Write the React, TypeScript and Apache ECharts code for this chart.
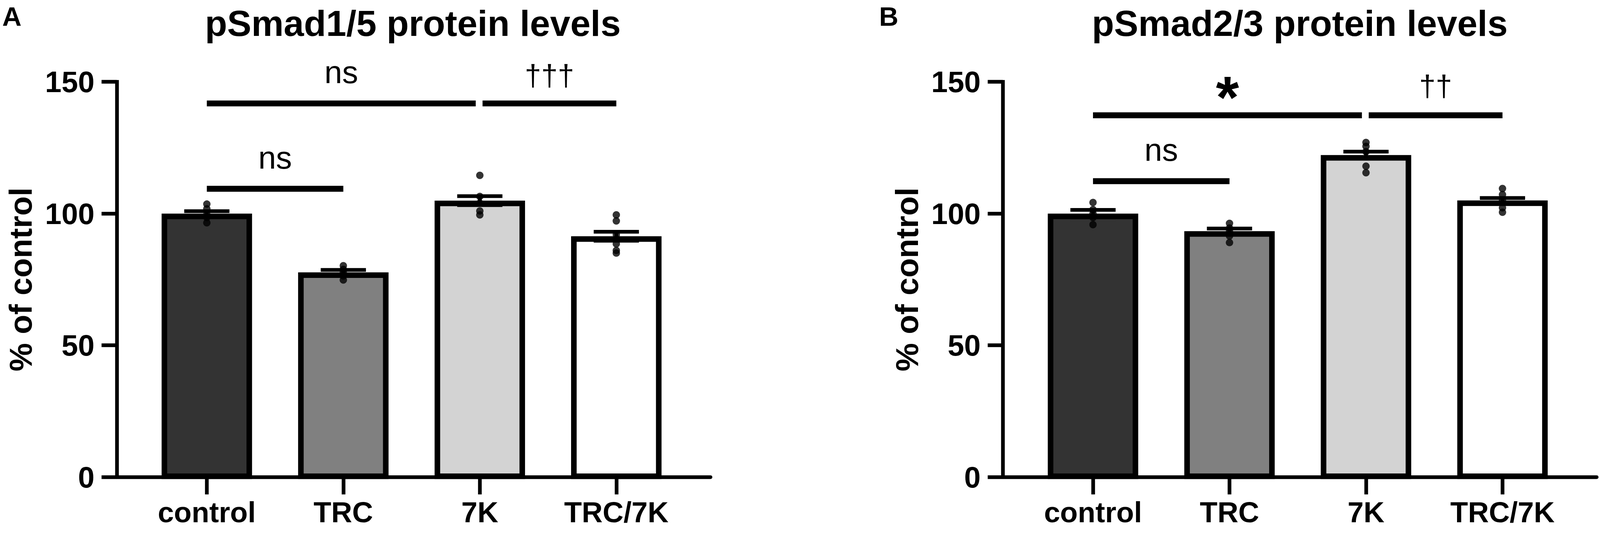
import React, { useEffect, useRef, useState } from "react";
import * as echarts from "echarts";

// ---------- data ----------
const categories = ["control", "TRC", "7K", "TRC/7K"];
const catPositions = [0, 1, 2, 3];
const barColors = ["#333333", "#808080", "#d3d3d3", "#ffffff"];

const titleA = "pSmad1/5 protein levels";
const titleB = "pSmad2/3 protein levels";
const yAxisName = "% of control";

const yMin = 0;
const yMax = 150;
const yInterval = 50;

// pSmad1/5 (panel A)
const smad15Means = [100, 77.7, 104.9, 91.4];
const smad15Sem = [0.9, 0.9, 1.7, 1.7];
const smad15Control = [103.6, 101.8, 99.6, 98.5, 96.5];
const smad15TRC = [80.2, 78.8, 77.5, 76.3, 74.8];
const smad157K = [114.5, 106.5, 104, 101, 99.5];
const smad15TRC7K = [99.5, 97.2, 92, 88.5, 86, 85];
const smad15SigLines = [
  [0, 1, 109.4],
  [0, 1.97, 141.8],
  [2.02, 3, 141.8],
];
const smad15SigLabels = ["ns", "ns", "†††"];

// pSmad2/3 (panel B)
const smad23Means = [100, 93.3, 122.2, 105.0];
const smad23Sem = [1.4, 1.0, 1.3, 0.9];
const smad23Control = [104.2, 101.5, 100, 98.5, 95.8];
const smad23TRC = [96.3, 94.5, 93.2, 91.5, 89];
const smad237K = [127, 125.5, 123.5, 118, 115.5];
const smad23TRC7K = [109.5, 107.2, 105, 102.2, 100.5];
const smad23SigLines = [
  [0, 1, 112.3],
  [0, 1.97, 137.3],
  [2.02, 3, 137.3],
];
const smad23SigLabels = ["ns", "*", "††"];

// ---------- styles ----------
const FONT = '"Liberation Sans", Arial, Helvetica, sans-serif';
const REF_W = 4317;
const REF_H = 1427;

function buildOption(s: number) {
  const px = (n: number) => n * s;
  const BAR_HALF = px(122);
  const BAR_BORDER = px(15);
  const CAP_HALF = px(61);
  const labelStyles: Record<string, { size: number; weight: string; dy: number }> = {
    ns: { size: 86, weight: "normal", dy: -85 },
    "†††": { size: 80, weight: "normal", dy: -76 },
    "††": { size: 80, weight: "normal", dy: -80 },
    "*": { size: 160, weight: "bold", dy: -48 },
  };

  function buildPanel(
    idx: number,
    means: number[],
    sems: number[],
    points: number[][],
    sigLines: number[][],
    sigLabels: string[]
  ) {
    const common = { xAxisIndex: idx, yAxisIndex: idx, coordinateSystem: "cartesian2d" };
    const bars = {
      type: "custom",
      ...common,
      z: 2,
      encode: { x: 0, y: 1 },
      data: means.map((m, i) => [catPositions[i], m]),
      renderItem: (params: any, api: any) => {
        const x = api.value(0);
        const m = api.value(1);
        const top = api.coord([x, m]);
        const base = api.coord([x, 0]);
        return {
          type: "rect",
          shape: {
            x: top[0] - BAR_HALF + BAR_BORDER / 2,
            y: top[1] + BAR_BORDER / 2,
            width: 2 * BAR_HALF - BAR_BORDER,
            height: base[1] - top[1] - BAR_BORDER / 2 - px(2),
          },
          style: { fill: barColors[params.dataIndex], stroke: "#000", lineWidth: BAR_BORDER },
        };
      },
    };
    const errors = {
      type: "custom",
      ...common,
      z: 3,
      encode: { x: 0, y: 1 },
      data: means.map((m, i) => [catPositions[i], m, sems[i]]),
      renderItem: (_params: any, api: any) => {
        const x = api.value(0);
        const m = api.value(1);
        const sd = api.value(2);
        const hi = api.coord([x, m + sd]);
        const lo = api.coord([x, m - sd]);
        const st = { stroke: "#000", lineWidth: px(10) };
        return {
          type: "group",
          children: [
            { type: "line", shape: { x1: hi[0], y1: hi[1], x2: lo[0], y2: lo[1] }, style: st },
            { type: "line", shape: { x1: hi[0] - CAP_HALF, y1: hi[1], x2: hi[0] + CAP_HALF, y2: hi[1] }, style: st },
            { type: "line", shape: { x1: lo[0] - CAP_HALF, y1: lo[1], x2: lo[0] + CAP_HALF, y2: lo[1] }, style: st },
          ],
        };
      },
    };
    const dots = {
      type: "scatter",
      xAxisIndex: idx,
      yAxisIndex: idx,
      z: 4,
      symbol: "circle",
      symbolSize: px(20),
      itemStyle: { color: "#000" },
      data: points.flatMap((arr, i) => arr.map((v) => [catPositions[i], v])),
    };
    const sig = {
      type: "custom",
      ...common,
      z: 5,
      encode: { x: [0, 1], y: 2 },
      data: sigLines.map((q) => [q[0], q[1], q[2]]),
      renderItem: (params: any, api: any) => {
        const p1 = api.coord([api.value(0), api.value(2)]);
        const p2 = api.coord([api.value(1), api.value(2)]);
        const label = sigLabels[params.dataIndex];
        const ls = labelStyles[label];
        return {
          type: "group",
          children: [
            {
              type: "line",
              shape: { x1: p1[0], y1: p1[1], x2: p2[0], y2: p2[1] },
              style: { stroke: "#000", lineWidth: px(16) },
            },
            {
              type: "text",
              x: (p1[0] + p2[0]) / 2,
              y: p1[1] + px(ls.dy),
              style: {
                text: label,
                fill: "#000",
                fontSize: px(ls.size),
                fontWeight: ls.weight,
                fontFamily: FONT,
                align: "center",
                verticalAlign: "middle",
                textAlign: "center",
                textVerticalAlign: "middle",
              },
            },
          ],
        };
      },
    };
    return [bars, errors, dots, sig];
  }

  const makeXAxis = (gridIndex: number) => ({
    type: "value",
    gridIndex,
    min: -0.66,
    max: 3.69,
    splitLine: { show: false },
    axisLine: { show: true, onZero: false, lineStyle: { color: "#000", width: px(10) } },
    axisTick: {
      show: true,
      customValues: catPositions,
      length: px(47),
      lineStyle: { color: "#000", width: px(10) },
    },
    axisLabel: {
      show: true,
      customValues: catPositions,
      formatter: (v: number) => categories[Math.round(v)] ?? "",
      color: "#000",
      fontSize: px(78),
      fontWeight: "bold",
      fontFamily: FONT,
      margin: px(56),
    },
  });

  const makeYAxis = (gridIndex: number) => ({
    type: "value",
    gridIndex,
    min: yMin,
    max: yMax,
    interval: yInterval,
    name: yAxisName,
    nameLocation: "middle",
    nameRotate: 90,
    nameGap: px(216),
    nameTextStyle: { color: "#000", fontSize: px(86), fontWeight: "bold", fontFamily: FONT },
    splitLine: { show: false },
    axisLine: { show: true, onZero: false, lineStyle: { color: "#000", width: px(10), cap: "square" } },
    axisTick: { show: true, length: px(41), lineStyle: { color: "#000", width: px(10) } },
    axisLabel: {
      color: "#000",
      fontSize: px(80),
      fontWeight: "bold",
      fontFamily: FONT,
      margin: px(60),
    },
  });

  const textEl = (text: string, x: number, y: number, size: number, align: string) => ({
    type: "text",
    x: px(x),
    y: px(y),
    style: {
      text,
      fill: "#000",
      fontSize: px(size),
      fontWeight: "bold",
      fontFamily: FONT,
      align,
      verticalAlign: "top",
      textAlign: align,
      textVerticalAlign: "top",
    },
  });

  return {
    animation: false,
    backgroundColor: "#ffffff",
    grid: [
      { left: px(315), top: px(221), width: px(1602), height: px(1067), containLabel: false },
      { left: px(2706), top: px(221), width: px(1602), height: px(1067), containLabel: false },
    ],
    xAxis: [makeXAxis(0), makeXAxis(1)],
    yAxis: [makeYAxis(0), makeYAxis(1)],
    graphic: [
      textEl(titleA, 1114, 14, 98, "center"),
      textEl(titleB, 3507, 14, 98, "center"),
      textEl("A", 6, 8, 72, "left"),
      textEl("B", 2372, 8, 72, "left"),
    ],
    series: [
      ...buildPanel(0, smad15Means, smad15Sem, [smad15Control, smad15TRC, smad157K, smad15TRC7K], smad15SigLines, smad15SigLabels),
      ...buildPanel(1, smad23Means, smad23Sem, [smad23Control, smad23TRC, smad237K, smad23TRC7K], smad23SigLines, smad23SigLabels),
    ],
  };
}

export default function App() {
  const ref = useRef<HTMLDivElement>(null);
  const [size, setSize] = useState<{ w: number; h: number } | null>(null);

  useEffect(() => {
    document.body.style.margin = "0";
    document.body.style.overflow = "hidden";
    document.documentElement.style.overflow = "hidden";
    setSize({ w: window.innerWidth, h: window.innerHeight });
  }, []);

  useEffect(() => {
    if (!size || !ref.current) return;
    const s = Math.min(size.w / REF_W, size.h / REF_H);
    const chart = echarts.init(ref.current, null, { renderer: "svg", width: REF_W * s, height: REF_H * s });
    chart.setOption(buildOption(s) as any);
    return () => chart.dispose();
  }, [size]);

  const s = size ? Math.min(size.w / REF_W, size.h / REF_H) : 1;
  return <div ref={ref} style={{ width: REF_W * s, height: REF_H * s, background: "#fff" }} />;
}
